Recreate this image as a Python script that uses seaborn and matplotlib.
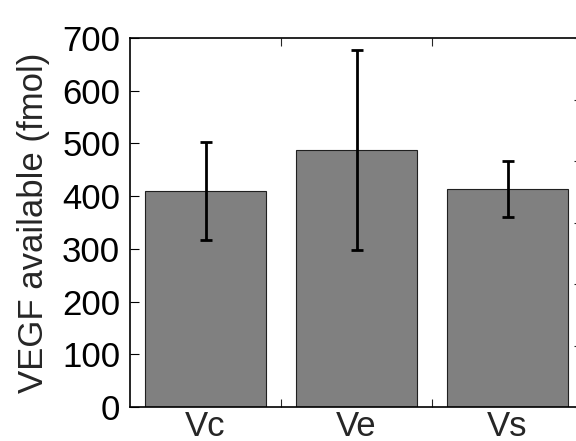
import matplotlib
matplotlib.use("Agg")
import matplotlib.pyplot as plt
import seaborn as sns
import pandas as pd
import numpy as np

categories = ["Vc", "Ve", "Vs"]
means = [410, 487, 414]
errors = [93, 190, 53]
yticks = [0, 100, 200, 300, 400, 500, 600, 700]

sns.set_style("white")
plt.rcParams['font.family'] = ['Liberation Sans', 'DejaVu Sans']

df = pd.DataFrame({"cond": categories, "val": means})

fig = plt.figure(figsize=(5.76, 4.41), dpi=100)
ax = fig.add_axes([130/576, 34/441, 453/576, 369/441])

sns.barplot(data=df, x="cond", y="val", ax=ax, color="#808080", saturation=1,
            edgecolor="#202020", linewidth=0.8, width=0.8, errorbar=None)
ax.errorbar(np.arange(len(categories)), means, yerr=errors, fmt="none",
            ecolor="black", elinewidth=2, capsize=4, capthick=2)

ax.set_xlim(-0.5, 2.5)
ax.set_ylim(0, 700)
ax.set_yticks(yticks)
ax.set_xlabel("")
ax.set_ylabel("VEGF available (fmol)", fontsize=25, labelpad=9)

for s in ax.spines.values():
    s.set_visible(True)
    s.set_color("black")
    s.set_linewidth(1.2)

ax.tick_params(axis="y", which="major", direction="in", length=6.5, width=0.8,
               labelsize=25, pad=7, left=True, right=False, colors="black")
ax.tick_params(axis="x", which="major", length=0, labelsize=25, pad=2)
ax.set_xticks([0.5, 1.5], minor=True)
ax.tick_params(axis="x", which="minor", direction="in", length=6, width=0.8,
               top=True, bottom=True)

ax2 = ax.twinx()
ax2.set_ylim(0, 6)
ax2.set_yticks(range(7))
ax2.set_yticklabels([])
ax2.tick_params(axis="y", direction="in", length=6.5, width=0.8)
for s in ax2.spines.values():
    s.set_visible(False)

fig.savefig("out.png", dpi=100)
